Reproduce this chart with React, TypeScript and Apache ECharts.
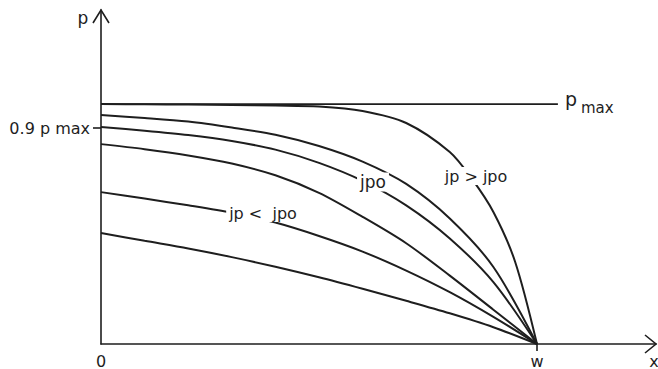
import React, { useEffect, useRef } from "react";
import * as echarts from "echarts";

// Normalised coordinates: x in units of w (x = 1 at w), p in units of p_max.
const X_MAX = 1.273;
const P_MAX_AXIS = 1.392;
const P_MAX = 1.0;
const PMAX_LINE_END = 1.048;

const xGrid = [0, 0.1, 0.2, 0.3, 0.4, 0.5, 0.6, 0.7, 0.8, 0.9, 1];

// Curve 1: jp > jpo
const c1X = [0, 0.1, 0.2, 0.3, 0.4, 0.5, 0.6, 0.7, 0.8, 0.85, 0.9, 0.95, 1];
const c1P = [1.0, 0.999, 0.998, 0.996, 0.994, 0.99, 0.971, 0.921, 0.8, 0.69, 0.55, 0.342, 0];
// Curve 2
const c2P = [0.954, 0.942, 0.927, 0.902, 0.872, 0.825, 0.76, 0.667, 0.523, 0.321, 0];
// Curve 3: jpo
const c3P = [0.904, 0.889, 0.871, 0.846, 0.81, 0.755, 0.68, 0.578, 0.44, 0.258, 0];
// Curve 4
const c4P = [0.833, 0.812, 0.786, 0.752, 0.703, 0.63, 0.53, 0.42, 0.285, 0.143, 0];
// Curve 5: jp < jpo
const c5P = [0.633, 0.606, 0.578, 0.547, 0.506, 0.45, 0.385, 0.306, 0.216, 0.113, 0];
// Curve 6
const c6P = [0.4625, 0.43, 0.398, 0.362, 0.322, 0.278, 0.23, 0.18, 0.128, 0.07, 0];

const xTickLabels = ["0", "w"];
const xTickValues = [0, 1];
const yTickValue = 0.9;
const yTickLabel = "0.9 p max";

const curves = [
  { x: c1X, p: c1P },
  { x: xGrid, p: c2P },
  { x: xGrid, p: c3P },
  { x: xGrid, p: c4P },
  { x: xGrid, p: c5P },
  { x: xGrid, p: c6P },
];

const INK = "#1e1e1e";
const FONT = "DejaVu Sans";

export default function App() {
  const ref = useRef<HTMLDivElement>(null);
  useEffect(() => {
    if (!ref.current) return;
    const chart = echarts.init(ref.current, null, { renderer: "svg" });
    const series: any[] = curves.map((c) => ({
      type: "line",
      data: c.x.map((v, i) => [v, c.p[i]]),
      showSymbol: false,
      smooth: 0.3,
      lineStyle: { color: INK, width: 2 },
      silent: true,
    }));
    series.push({
      type: "line",
      data: [
        [0, P_MAX],
        [PMAX_LINE_END, P_MAX],
      ],
      showSymbol: false,
      lineStyle: { color: INK, width: 1.8 },
      silent: true,
    });
    const txt = (text: string, x: number, y: number, size: number, align = "center", bg = false) => ({
      type: "text",
      z: 100,
      style: {
        text,
        x,
        y,
        fill: INK,
        font: `${size}px "${FONT}"`,
        align,
        verticalAlign: "middle",
        backgroundColor: bg ? "#fff" : undefined,
        padding: bg ? [1, 3] : undefined,
      },
    });
    chart.setOption({
      animation: false,
      backgroundColor: "#fff",
      grid: { left: 101, right: 2, top: 10, bottom: 25, containLabel: false },
      xAxis: {
        type: "value",
        min: 0,
        max: X_MAX,
        splitLine: { show: false },
        axisLine: { show: true, onZero: false, lineStyle: { color: INK, width: 1.6 } },
        axisTick: { show: true, customValues: [1], length: 7, lineStyle: { color: INK, width: 1.6 } },
        axisLabel: {
          customValues: xTickValues,
          formatter: (v: number) => xTickLabels[xTickValues.indexOf(Math.round(v))] ?? "",
          color: INK,
          fontSize: 16,
          fontFamily: FONT,
          margin: 9,
        },
      },
      yAxis: {
        type: "value",
        min: 0,
        max: P_MAX_AXIS,
        splitLine: { show: false },
        axisLine: { show: true, onZero: false, lineStyle: { color: INK, width: 1.6 } },
        axisTick: { show: true, customValues: [yTickValue], length: 8, lineStyle: { color: INK, width: 1.6 } },
        axisLabel: {
          customValues: [yTickValue],
          formatter: () => yTickLabel,
          color: INK,
          fontSize: 16,
          fontFamily: FONT,
          margin: 11,
        },
      },
      series,
      graphic: [
        { type: "polyline", z: 100, shape: { points: [[93, 23], [101, 10], [109, 23]] }, style: { stroke: INK, lineWidth: 1.6, fill: "none" } },
        { type: "polyline", z: 100, shape: { points: [[645, 335], [656, 344], [645, 353]] }, style: { stroke: INK, lineWidth: 1.6, fill: "none" } },
        txt("p", 83, 18, 17),
        txt("x", 654, 361, 16),
        txt("p", 565, 99, 19, "left"),
        txt("max", 581, 108, 15, "left"),
        txt("jp > jpo", 476, 176, 16, "center", true),
        txt("jpo", 373, 182, 17, "center", true),
        txt("jp <  jpo", 263, 213, 16, "center", true),
      ],
    });
    return () => chart.dispose();
  }, []);
  return (
    <div
      ref={ref}
      style={{ position: "fixed", left: 0, top: 0, width: 658, height: 369 }}
    />
  );
}
